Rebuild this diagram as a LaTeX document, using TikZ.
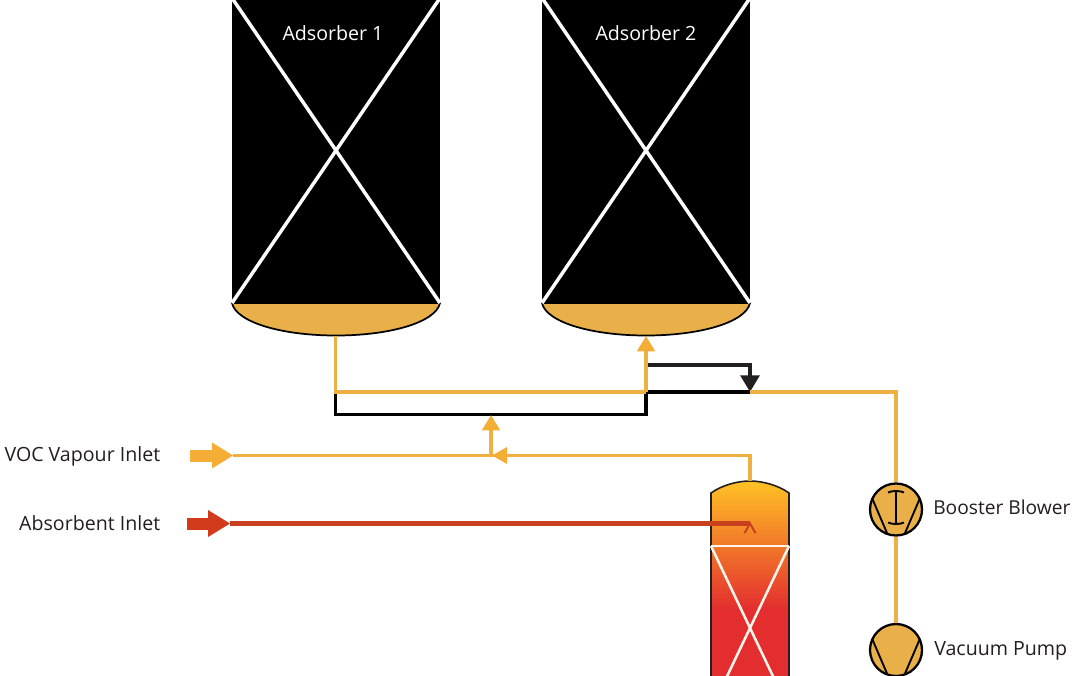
\documentclass[tikz,border=0pt]{standalone}
\usepackage{fontspec}
\setmainfont{Open Sans}
\usetikzlibrary{arrows.meta,calc}
\definecolor{amber}{HTML}{EEB043}
\definecolor{amberfill}{HTML}{E9AF49}
\definecolor{ambertip}{HTML}{F5AE35}
\definecolor{rust}{HTML}{C9401F}
\definecolor{rusttip}{HTML}{D33A1C}
\definecolor{ink}{HTML}{231F20}
\definecolor{colred}{HTML}{E32D2E}
\definecolor{coltop}{HTML}{FFC225}
\tikzset{
  x=0.75pt,y=-0.75pt,
  lab/.style={font=\fontsize{14.7pt}{16pt}\selectfont,text=ink,inner sep=0pt},
  vessellab/.style={font=\fontsize{14.7pt}{16pt}\selectfont,text=white,inner sep=0pt},
  amberline/.style={draw=amber,line width=2.9pt},
  blackline/.style={draw=black,line width=2.9pt},
  redline/.style={draw=rust,line width=3.2pt},
  cross/.style={draw=white,line width=2.6pt},
  thincross/.style={draw=white!92!orange,line width=1.9pt},
  pump/.style={circle,draw=black,line width=1.7pt,fill=amberfill,minimum size=39pt,inner sep=0pt},
  pumpline/.style={draw=black,line width=1.4pt},
  amberarrow/.style={amberline,-{Triangle[length=11.5pt,width=13pt,color=ambertip]}},
  blackarrow/.style={draw=ink,line width=2.9pt,-{Triangle[length=12.5pt,width=14pt,color=ink]}},
  blockshaft/.style={line width=9pt},
}
\newcommand{\adsorber}[3]{%
  \coordinate (#1tl) at (#2-104,-2);
  \coordinate (#1tr) at (#2+104,-2);
  \coordinate (#1bl) at (#2-104,303);
  \coordinate (#1br) at (#2+104,303);
  \fill[black] (#1tl) rectangle (#1br);
  \path[fill=amberfill,draw=black,line width=1.3pt] (#1bl) .. controls (#2-100,322) and (#2-55,335.5) .. (#2,335.5) .. controls (#2+55,335.5) and (#2+100,322) .. (#1br) -- cycle;
  \coordinate (#1bot) at (#3,336);
  \draw[cross] (#1bl) -- (#1tr);
  \draw[cross] (#1br) -- (#1tl);
}
\newcommand{\vlines}[1]{%
  \draw[pumpline] ($(#1)+(-24,-11.5)$) -- ($(#1)+(-9,23.5)$);
  \draw[pumpline] ($(#1)+(24,-11.5)$) -- ($(#1)+(9,23.5)$);
}
\begin{document}
\begin{tikzpicture}
\useasboundingbox (0,0) rectangle (1080,675);
\clip (0,0) rectangle (1080,675);
\fill[white] (0,0) rectangle (1080,675);

\adsorber{aone}{336}{335.5}
\adsorber{atwo}{646}{646}
\node[vessellab,anchor=base] (aonelab) at (333,40) {Adsorber 1};
\node[vessellab,anchor=base] (atwolab) at (646,40) {Adsorber 2};

% junction points
\coordinate (ja) at (335.5,392);
\coordinate (jb) at (646,392);
\coordinate (jc) at (750,392);
\coordinate (jd) at (896,392);
\coordinate (je) at (335.5,414.5);
\coordinate (jf) at (646,414.5);
\coordinate (jg) at (648,365);
\coordinate (jh) at (750,365);
\coordinate (vtip) at (233,455.5);
\coordinate (vtail) at (190,455.5);
\coordinate (vjun) at (491,455.5);
\coordinate (vup) at (491,415);
\coordinate (ctopup) at (750,455.5);
\coordinate (rtip) at (230,523.5);
\coordinate (rtail) at (187,523.5);
\coordinate (rend) at (750,523.5);

% black loop
\draw[blackline,line cap=butt,line join=miter] (ja) -- (je) -- (jf) -- (jb) -- (jc);
\draw[blackarrow] (jg) -- (jh) -- (jc);

% column
\begin{scope}
  \path[clip] (711,493) .. controls (722,485) and (738,481) .. (750,481) .. controls (762,481) and (778,485) .. (789,493) -- (789,680) -- (711,680) -- cycle;
  \shade[top color=coltop,bottom color=colred] (711,481) rectangle (789,610);
  \fill[colred] (711,609.5) rectangle (789,680);
\end{scope}
\draw[ink,line width=1.2pt] (711,680) -- (711,493) .. controls (722,485) and (738,481) .. (750,481) .. controls (762,481) and (778,485) .. (789,493) -- (789,680);
\coordinate (coltopc) at (750,481);
\draw[thincross] (711,546) -- (789,546);
\draw[thincross] (711,546) -- (750,628) -- (790,712);
\draw[thincross] (789,546) -- (750,628) -- (710,712);

% pumps
\node[pump] (blower) at (896,509.5) {};
\node[pump] (vacuum) at (896,650) {};
\vlines{blower}
\vlines{vacuum}
\draw[pumpline] (896,491) -- (896,524);
\draw[pumpline] (888,492.5) .. controls (892,490.5) and (900,490.5) .. (904,492.5);
\draw[pumpline] (888,522.5) .. controls (892,524.5) and (900,524.5) .. (904,522.5);

% amber lines
\draw[amberline] (aonebot) -- (ja) -- (jb);
\draw[amberarrow] (jb) -- (atwobot);
\draw[amberline] (jc) -- (jd) -- (blower.north);
\draw[amberline] (blower.south) -- (vacuum.north);
\draw[amberline] (coltopc) -- (ctopup) -- (vjun);
\fill[ambertip] (492,455.5) -- (507,447) -- (507,464) -- cycle;
\draw[amberline] (vtip) -- (vjun);
\draw[amberarrow] (vjun) -- (vup);

% feed arrows
\draw[ambertip,blockshaft] (vtail) -- (213,455.5);
\fill[ambertip] (212,442.5) -- (vtip) -- (212,468.5) -- cycle;
\draw[redline] (rtip) -- (rend);
\draw[rust,line width=1.5pt] (744.5,533) -- (750,523.5) -- (755.5,533);
\draw[rusttip,blockshaft] (rtail) -- (209,523.5);
\fill[rusttip] (208,510) -- (rtip) -- (208,537) -- cycle;

% labels
\node[lab,anchor=base east] (voclab) at (160.5,461) {VOC Vapour Inlet};
\node[lab,anchor=base east] (abslab) at (160.5,530) {Absorbent Inlet};
\node[lab,anchor=base west,font=\fontsize{14.4pt}{16pt}\selectfont] (blowlab) at (933,514) {Booster Blower};
\node[lab,anchor=base west] (vaclab) at (934,655) {Vacuum Pump};
\end{tikzpicture}
\end{document}
